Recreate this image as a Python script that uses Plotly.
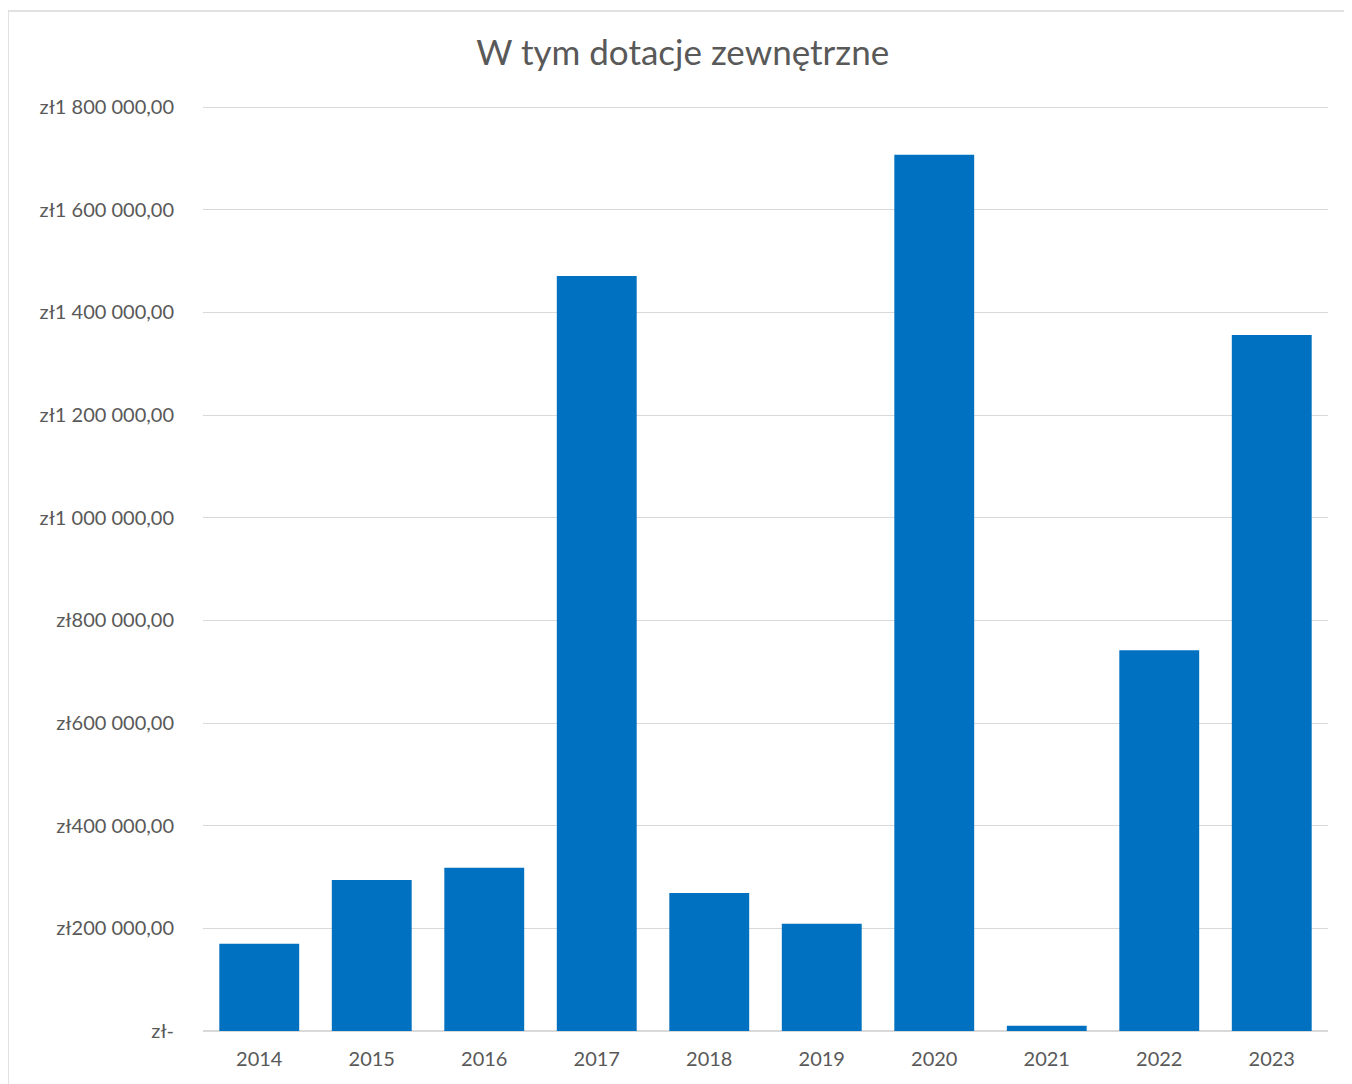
import plotly.graph_objects as go

years = ["2014", "2015", "2016", "2017", "2018", "2019", "2020", "2021", "2022", "2023"]
dotacje = [170000, 294000, 318000, 1471000, 269000, 209000, 1707000, 10000, 742000, 1356000]

tick_vals = [0, 200000, 400000, 600000, 800000, 1000000, 1200000, 1400000, 1600000, 1800000]
tick_text = ["zł-", "zł200 000,00", "zł400 000,00", "zł600 000,00", "zł800 000,00",
             "zł1 000 000,00", "zł1 200 000,00", "zł1 400 000,00", "zł1 600 000,00",
             "zł1 800 000,00"]

_FONT = "Lato, 'Open Sans', sans-serif"
_GREY = "#595959"

fig = go.Figure(go.Bar(x=years, y=dotacje, marker=dict(color="#0070C0", line=dict(width=0))))

fig.update_layout(
    width=1344, height=1076,
    paper_bgcolor="white", plot_bgcolor="white",
    margin=dict(l=195, r=24, t=97, b=53),
    bargap=0.29,
    showlegend=False,
    font=dict(family=_FONT, color=_GREY),
    title=dict(text="W tym dotacje zewnętrzne", x=0.502, xanchor="center",
               y=1 - 45 / 1076, yanchor="middle",
               font=dict(size=35, color=_GREY, family=_FONT)),
    # ramka wykresu (jak w Excelu)
    shapes=[dict(type="rect", xref="paper", yref="paper",
                 x0=-195 / 1125, x1=1.2, y0=-0.2, y1=(1031 - 11) / 926,
                 line=dict(color="#d9d9d9", width=1.5), layer="below")],
)
fig.update_yaxes(range=[0, 1804000], tickvals=tick_vals, ticktext=tick_text,
                 showgrid=True, gridcolor="#d9d9d9", gridwidth=1,
                 zeroline=True, zerolinecolor="#d9d9d9", zerolinewidth=1.5,
                 ticks="", ticklabelstandoff=28,
                 tickfont=dict(size=20, color=_GREY, family=_FONT))
fig.update_xaxes(type="category", showgrid=False, showline=False, ticks="",
                 ticklabelstandoff=14,
                 tickfont=dict(size=20, color=_GREY, family=_FONT))

fig.write_html("out.html")
